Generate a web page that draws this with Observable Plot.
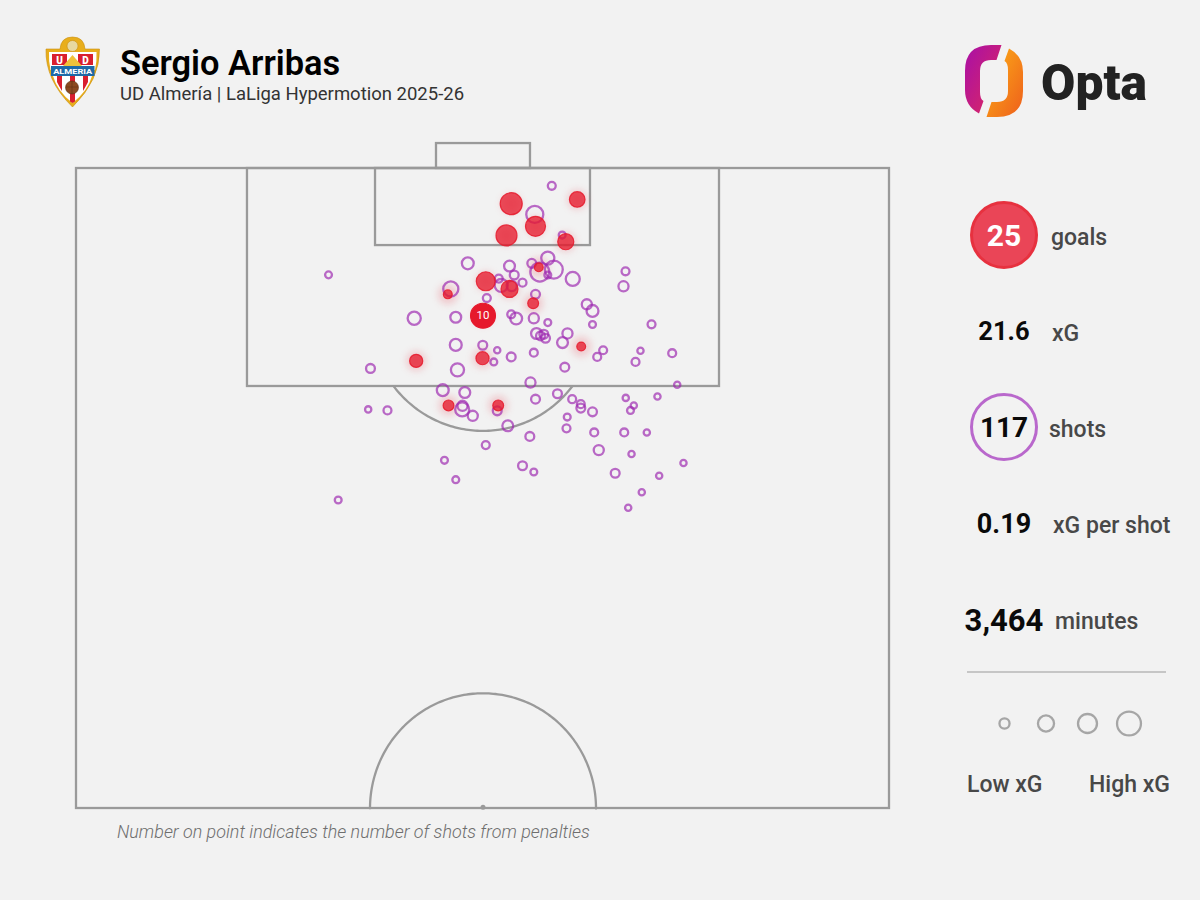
<!DOCTYPE html>
<html>
<head>
<meta charset="utf-8">
<script src="https://cdn.jsdelivr.net/npm/d3@7"></script>
<script src="https://cdn.jsdelivr.net/npm/@observablehq/plot@0.6"></script>
<style>
html,body{margin:0;padding:0;background:#f2f2f2;}
#page{position:relative;width:1200px;height:900px;overflow:hidden;background:#f2f2f2;font-family:Roboto,sans-serif;}
#page>svg,#page svg.abs{position:absolute;left:0;top:0;}
.t{position:absolute;white-space:nowrap;line-height:1;}
.c{transform:translate(-50%,-50%);}
.v{color:#0a0a0a;font-weight:700;}
.l{color:#484848;font-weight:500;transform:translateY(-50%);}
.ring{position:absolute;box-sizing:border-box;width:68px;height:68px;border-radius:50%;}
</style>
</head>
<body>
<div id="page"></div>
<script>
// Opta pitch coordinates: across (0-100) and along (50-100, goal at 100)
const goalAcross = [53.47,61.59,56.46,52.89,60.18,56.86,50.34,53.26,45.67,56.17,50,62.08,41.78,49.94,45.76,51.87];
const goalAlong  = [97.25,97.58,95.48,94.77,94.28,92.28,91.19,90.59,90.17,89.47,88.5,86.09,84.97,85.18,81.49,81.49];
const goalXG     = [.62,.31,.51,.56,.33,.10,.46,.37,.10,.15,.79,.10,.22,.22,.15,.15];
const goalCount  = [1,1,1,1,1,1,1,1,1,1,10,1,1,1,1,1];

const shotAcross = [58.46,56.37,59.74,57.97,56.0,53.26,48.13,58.71,56.99,53.84,51.94,52.24,53.54,54.86,57.97,61.04,46.04,50.47,56.46,62.77,63.47,41.54,46.65,53.47,54.08,56.25,
 57.97,63.47,56.58,57.07,57.48,57.69,60.39,59.78,46.65,49.97,51.75,56.25,64.78,67.28,67.53,70.73,69.37,73.27,68.76,36.16,53.47,51.33,46.86,60.06,64.05,55.84,
 73.89,45.05,47.76,56.46,59.16,60.97,67.56,71.46,35.88,38.25,47.48,47.44,48.74,51.75,62.03,62.03,63.47,68.55,68.14,60.36,53.05,60.27,63.68,67.37,70.15,55.76,
 50.34,64.24,68.27,45.26,74.66,54.86,56.25,66.26,71.67,46.65,69.53,67.86,32.19,31.0];
const shotAlong = [98.65,96.41,94.8,93.0,92.59,92.38,92.59,92.1,91.91,91.68,91.4,90.87,90.82,91.08,91.68,91.37,90.59,89.88,90.17,89.39,88.87,88.3,88.38,88.61,88.28,88.3,
 87.96,87.81,87.11,86.92,87.05,86.74,87.11,86.4,86.22,86.19,85.8,85.61,85.8,90.8,91.97,87.83,85.76,85.57,84.89,84.38,85.28,84.89,84.27,84.48,85.28,83.28,
 83.1,82.68,82.5,81.98,82.4,81.98,82.08,82.19,81.18,81.1,81.46,81.18,80.68,81.07,81.59,81.28,80.99,81.49,81.1,80.58,79.9,79.7,79.38,79.38,79.38,79.07,
 78.39,78.0,77.69,77.2,76.99,76.78,76.29,76.19,76.0,75.69,74.7,73.5,74.1,91.69];
const shotXG = [.08,.37,.06,.22,.10,.15,.18,.41,.46,.10,.08,.22,.13,.08,.06,.25,.29,.08,.10,.13,.18,.22,.15,.08,.18,.13,
 .06,.06,.15,.10,.10,.10,.13,.15,.18,.10,.05,.08,.08,.13,.08,.08,.05,.08,.08,.10,.10,.06,.22,.10,.08,.13,
 .05,.18,.15,.10,.10,.08,.05,.05,.05,.08,.13,.25,.13,.10,.08,.10,.10,.05,.06,.06,.15,.08,.08,.08,.05,.10,
 .08,.13,.05,.06,.05,.10,.06,.10,.05,.06,.05,.05,.06,.06];

const legendXG = [.13,.33,.46,.73];
const statValues = ["25","21.6","117","0.19","3,464"];
const statLabels = ["goals","xG","shots","xG per shot","minutes"];

const shots = shotAcross.map((x,i)=>({x,y:shotAlong[i],xG:shotXG[i]}));
const goals = goalAcross.map((x,i)=>({x,y:goalAlong[i],xG:goalXG[i],n:goalCount[i]}));

const lineColor = "#9a9a9a";
const boxes = [
  {x1:0,x2:100,y1:50,y2:100},
  {x1:21.03,x2:79.09,y1:82.97,y2:100},
  {x1:36.78,x2:63.22,y1:93.98,y2:100},
  {x1:44.28,x2:55.84,y1:100,y2:101.95}
];
// Pitch markings: penalty arc and centre circle (radius 13.9 across, 9 along)
const arc = (cy,from,to)=>d3.range(from,to+.001,.02).map(a=>({x:50+13.9*Math.cos(a),y:cy+9*Math.sin(a)}));
const penaltyArc = arc(88.5,Math.PI+0.66,2*Math.PI-0.66);
const centreArc = arc(50,0,Math.PI);

const chart = Plot.plot({
  width:1200,height:900,
  marginLeft:76,marginRight:311,marginTop:168,marginBottom:92,
  style:{background:"transparent",overflow:"visible"},
  x:{domain:[0,100],axis:null},
  y:{domain:[50,100],axis:null},
  r:{type:"sqrt",domain:[0,1],range:[0,14]},
  marks:[
    Plot.rect(boxes,{x1:"x1",x2:"x2",y1:"y1",y2:"y2",fill:"none",stroke:lineColor,strokeWidth:2.3}),
    Plot.line(penaltyArc,{x:"x",y:"y",stroke:lineColor,strokeWidth:2.3,curve:"linear"}),
    Plot.line(centreArc,{x:"x",y:"y",stroke:lineColor,strokeWidth:2.3,curve:"linear"}),
    Plot.dot([{x:50,y:50.1}],{x:"x",y:"y",r:2.5,fill:lineColor}),
    Plot.dot(goals,{x:"x",y:"y",r:10,fill:"#e8283a",fillOpacity:.2,imageFilter:"blur(3.5px)"}),
    Plot.dot(shots,{x:"x",y:"y",r:"xG",fill:"none",stroke:"#9c27b0",strokeOpacity:.68,strokeWidth:2.3}),
    Plot.dot(goals,{x:"x",y:"y",r:"xG",fill:"#e6192c",fillOpacity:d=>d.n>1?1:.76,stroke:"#e6192c",strokeOpacity:d=>d.n>1?1:.85,strokeWidth:1.2}),
    Plot.text(goals.filter(d=>d.n>1),{x:"x",y:"y",text:"n",fill:"#fff",fontSize:11.5,fontFamily:"Roboto"})
  ]
});
const page = document.getElementById("page");
page.appendChild(chart);

const legend = Plot.plot({
  width:1200,height:40,margin:0,
  style:{background:"transparent",position:"absolute",left:"0",top:"703px"},
  x:{domain:[0,3],range:[1004,1128.5],axis:null},
  r:{type:"sqrt",domain:[0,1],range:[0,14]},
  marks:[Plot.dot(legendXG,{x:(d,i)=>i,r:d=>d,frameAnchor:"middle",fill:"none",stroke:"#a6a6a6",strokeWidth:2.3})]
});
legend.style.top="703px";
page.appendChild(legend);

function add(html){const d=document.createElement("div");d.innerHTML=html;while(d.firstChild)page.appendChild(d.firstChild);}
function text(s,x,y,cls,style){return `<div class="t ${cls}" style="left:${x}px;top:${y}px;${style||""}">${s}</div>`;}

add(`
<div class="ring" style="left:970px;top:201px;background:#ea4557;border:3px solid #e7313f"></div>
<div class="ring" style="left:970px;top:393px;border:3px solid #b968cc"></div>
`);
const rows = [236,332,428,524,620];
const labelX = [1051,1052,1049,1053,1055];
const valueSize = [30,25.5,28,27,31];
statValues.forEach((v,i)=>{
  add(text(v,1004,rows[i],"v c",`font-size:${valueSize[i]}px;${i==0?"color:#fff":""}`));
  add(text(statLabels[i],labelX[i],rows[i]+1,"l","font-size:23px"));
});
add(`<div style="position:absolute;left:967px;top:671px;width:199px;height:2px;background:#c6c6c6"></div>`);
add(text("Low xG",967,784,"l","font-size:23px"));
add(text("High xG",1089,784,"l","font-size:23px"));

add(text("Sergio Arribas",120,63,"","font-size:34.400px;font-weight:600;color:#000;transform:translateY(-50%)"));
add(text("UD Almería | LaLiga Hypermotion 2025-26",120,93.5,"","font-size:18.500px;font-weight:400;color:#333;transform:translateY(-50%)"));
add(text("Number on point indicates the number of shots from penalties",117,832,"","font-size:17.900px;font-style:italic;font-weight:300;color:#6e6e6e;transform:translateY(-50%)"));

// Crest + Opta logo
add(`<svg class="abs" width="1200" height="130" style="pointer-events:none">
<defs>
<linearGradient id="gL" x1="0" y1="0" x2="1" y2="1"><stop offset="0" stop-color="#a80fa8"/><stop offset="1" stop-color="#e02a5c"/></linearGradient>
<linearGradient id="gR" x1="0" y1="0" x2="1" y2="1"><stop offset="0" stop-color="#fdb116"/><stop offset="1" stop-color="#ee5f1c"/></linearGradient>
</defs>
<path d="M1001.5 45L996.5 60L991 60Q980 60 980 71L980 92Q980 99 983.5 101L979 113.5Q965 106 965 90L965 71Q965 45 991 45Z" fill="url(#gL)"/>
<path d="M986.5 117L991.5 102L997 102Q1008 102 1008 91L1008 70Q1008 63 1004.500 61L1009 48.500Q1023 56 1023 72L1023 91Q1023 117 997 117Z" fill="url(#gR)"/>
<text x="1041" y="100" font-family="Roboto" font-weight="900" font-size="50" fill="#222" textLength="106" lengthAdjust="spacingAndGlyphs">Opta</text>

<path d="M46 49L60 49Q61 37 72.500 37Q84 37 85 49L99.500 49Q100 80 72.500 107Q45 80 46 49Z" fill="#e8ae1c" stroke="#c98f10" stroke-width=".6"/>
<circle cx="72.500" cy="46" r="5.500" fill="#e8d9a0" stroke="#c98f10" stroke-width=".6"/>
<path d="M49 52L96.500 52Q97 61 95 70L50.500 70Q48.500 61 49 52Z" fill="#fff"/>
<rect x="52" y="54" width="15" height="11" fill="#d91f2e"/>
<rect x="78" y="54" width="15" height="11" fill="#d91f2e"/>
<text x="59.500" y="63.500" text-anchor="middle" font-family="Roboto" font-weight="900" font-size="10" fill="#fff">U</text>
<text x="85.500" y="63.500" text-anchor="middle" font-family="Roboto" font-weight="900" font-size="10" fill="#fff">D</text>
<path d="M72.500 55L82 66L63 66Z" fill="#f0c23a"/>
<rect x="51" y="66" width="43.500" height="10" fill="#1f6aa8"/>
<text x="72.700" y="74.200" text-anchor="middle" font-family="Roboto" font-weight="700" font-size="7.600" fill="#fff" textLength="39" lengthAdjust="spacingAndGlyphs">ALMERIA</text>
<path d="M53 76L92 76Q88 91 72.500 103Q57 91 53 76Z" fill="#fff"/>
<path d="M57 76L62 76L62 91Q59 86 57 82Z M70 76L75 76L75 101.500L72.500 103L70 101.500Z M83 76L88 76L88 82Q86 86 83 91Z" fill="#d91f2e"/>
<circle cx="72" cy="87.500" r="6.500" fill="#8a4a20" stroke="#5a2f12" stroke-width=".6"/>
<path d="M66 87L78 87M72 81L72 94" stroke="#5a2f12" stroke-width=".5"/>
</svg>`);
</script>
</body>
</html>
